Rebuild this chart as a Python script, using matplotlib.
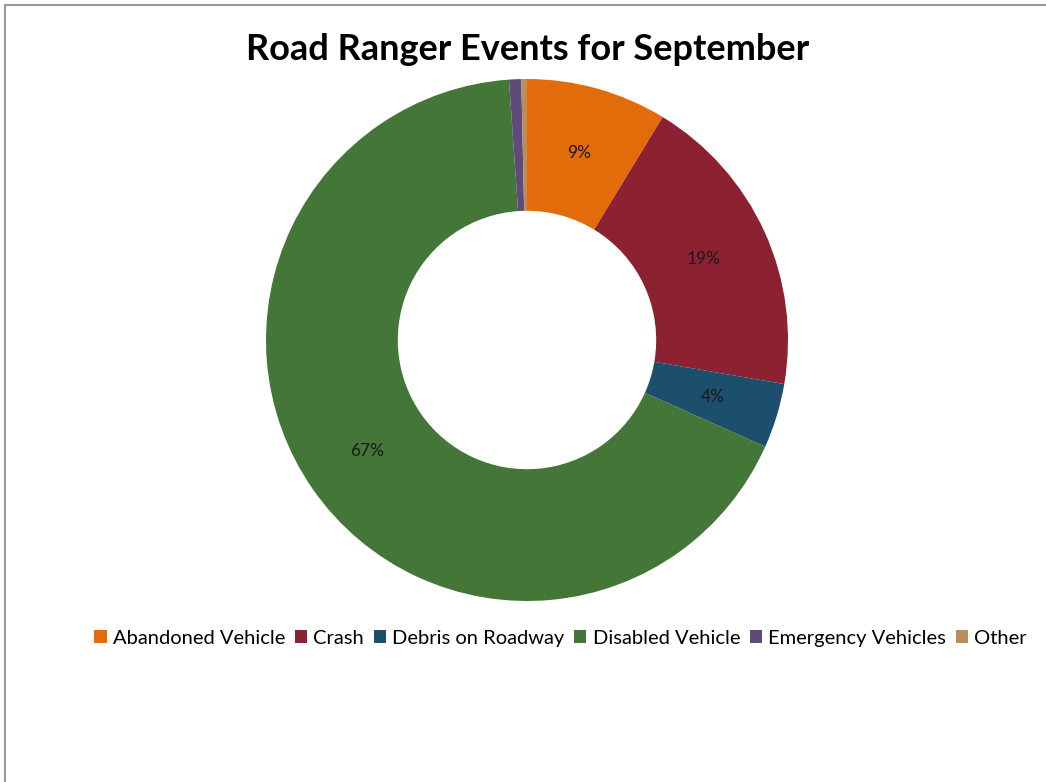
import matplotlib.pyplot as plt
from matplotlib.lines import Line2D
from matplotlib.patches import Patch

plt.rcParams['font.family'] = ['Lato', 'DejaVu Sans']

categories = ['Abandoned Vehicle', 'Crash', 'Debris on Roadway',
              'Disabled Vehicle', 'Emergency Vehicles', 'Other']
shares = [8.7, 19.0, 4.0, 67.2, 0.75, 0.35]
colors = ['#E36C0A', '#8C2231', '#1B4F6B', '#437637', '#604A7B', '#B88F5A']

fig = plt.figure(figsize=(10.46, 7.82), dpi=100)

# grey frame on top and left, like the screenshot
fig.add_artist(Line2D([0.005, 0.005], [0, 0.993], transform=fig.transFigure,
                      color='#9A9A9A', lw=1.5))
fig.add_artist(Line2D([0.005, 1], [0.993, 0.993], transform=fig.transFigure,
                      color='#9A9A9A', lw=1.5))

r_px = 261
cx, cy = 527, 340
ax = fig.add_axes([(cx - r_px) / 1046, (782 - cy - r_px) / 782,
                   2 * r_px / 1046, 2 * r_px / 782])
wedges, texts, autotexts = ax.pie(
    shares, colors=colors, startangle=90, counterclock=False,
    radius=1.0, wedgeprops=dict(width=0.505, linewidth=0),
    autopct=lambda p: f'{p:.0f}%' if p >= 2 else '', pctdistance=0.745,
    textprops=dict(fontsize=12.5, color='#1a1a1a'))
ax.set_xlim(-1, 1)
ax.set_ylim(-1, 1)
ax.set_aspect('equal')

fig.text(0.504, 0.937, 'Road Ranger Events for September', ha='center',
         va='center', fontsize=26, fontweight='bold', color='black')

handles = [Patch(facecolor=c, edgecolor='none', label=l)
           for c, l in zip(colors, categories)]
fig.legend(handles=handles, loc='center', bbox_to_anchor=(0.536, 0.184),
           ncol=6, frameon=False, fontsize=14.5, handlelength=0.6,
           handleheight=0.6, handletextpad=0.3, columnspacing=0.5)

plt.savefig('out.png', dpi=100)
